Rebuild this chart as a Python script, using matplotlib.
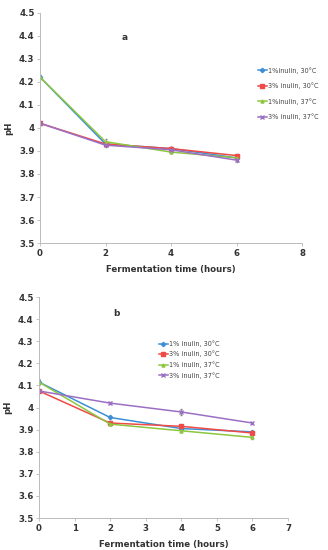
#!/usr/bin/env python3

import matplotlib
matplotlib.use("Agg")
from matplotlib.lines import Line2D
from matplotlib.pyplot import figure, close

HOURS = [0, 2, 4, 6]
LABELS_A = ["1%inulin, 30°C", "3% inulin, 30°C", "1%inulin, 37°C", "3% inulin, 37°C"]
LABELS_B = ["1% inulin, 30°C", "3% inulin, 30°C", "1% inulin, 37°C", "3% inulin, 37°C"]

PH_A = [
    [4.22, 3.93, 3.91, 3.87],
    [4.02, 3.93, 3.91, 3.88],
    [4.22, 3.94, 3.895, 3.87],
    [4.02, 3.925, 3.905, 3.86],
]
ERR_A = [
    [0.01, 0.01, 0.008, 0.008],
    [0.008, 0.006, 0.008, 0.008],
    [0.01, 0.012, 0.006, 0.008],
    [0.006, 0.008, 0.01, 0.01],
]
PH_B = [
    [4.115, 3.955, 3.905, 3.89],
    [4.075, 3.93, 3.915, 3.885],
    [4.115, 3.925, 3.895, 3.865],
    [4.075, 4.02, 3.98, 3.93],
]
ERR_B = [
    [0.015, 0.008, 0.006, 0.005],
    [0.006, 0.006, 0.006, 0.005],
    [0.01, 0.005, 0.005, 0.005],
    [0.006, 0.004, 0.012, 0.006],
]

COLORS = ["#3d8fd6", "#ef4a45", "#8dc63f", "#9a6fc4"]
MARKERS = ["D", "s", "^", "x"]


def panel(fig, rect, ph, err, labels, xmax, xticks, tag, tag_pos, leg_pos,
          spacing):
    ax = fig.add_axes(rect)
    handles = []
    for ys, es, lab, c, m in zip(ph, err, labels, COLORS, MARKERS):
        ax.errorbar(HOURS, ys, yerr=es, color=c, marker=m, markersize=2.2,
                    linewidth=1.1, ecolor="#888888", elinewidth=0.6, capsize=1)
        handles.append(Line2D([], [], color=c, marker=m, markersize=2.2,
                              linewidth=1.1, label=lab))
    ax.set_xlim(0, xmax)
    ax.set_ylim(3.5, 4.5)
    ax.set_xticks(xticks)
    ax.set_yticks([3.5, 3.6, 3.7, 3.8, 3.9, 4.0, 4.1, 4.2, 4.3, 4.4, 4.5])
    ax.set_yticklabels(["3.5", "3.6", "3.7", "3.8", "3.9", "4", "4.1", "4.2",
                        "4.3", "4.4", "4.5"])
    for s in ["top", "right"]:
        ax.spines[s].set_visible(False)
    for s in ["left", "bottom"]:
        ax.spines[s].set_color("#bbbbbb")
        ax.spines[s].set_linewidth(0.7)
    ax.tick_params(labelsize=6.2, length=2, width=0.6, color="#bbbbbb",
                   pad=2, labelcolor="#333333")
    for t in ax.get_xticklabels() + ax.get_yticklabels():
        t.set_fontweight("bold")
    ax.set_xlabel("Fermentation time (hours)", fontsize=6.2, fontweight="bold",
                  color="#333333", labelpad=5)
    ax.set_ylabel("pH", fontsize=6.2, fontweight="bold", color="#333333",
                  labelpad=4)
    ax.text(tag_pos[0], tag_pos[1], tag, fontsize=6.5, fontweight="bold",
            color="#333333", transform=ax.transAxes)
    leg = ax.legend(handles=handles, loc="upper left", bbox_to_anchor=leg_pos,
                    frameon=False, fontsize=4.7, handlelength=1.5,
                    labelspacing=spacing, handletextpad=0.15,
                    borderaxespad=0, borderpad=0)
    for t in leg.get_texts():
        t.set_color("#444444")
    return ax


def main():
    fig = figure(figsize=(3.28, 5.5), dpi=100)
    panel(fig, [0.122, 0.558, 0.799, 0.419], PH_A, ERR_A, LABELS_A, 8,
          [0, 2, 4, 6, 8], "a", (0.31, 0.88), (0.83, 0.765), 1.35)
    panel(fig, [0.119, 0.058, 0.759, 0.402], PH_B, ERR_B, LABELS_B, 7,
          [0, 1, 2, 3, 4, 5, 6, 7], "b", (0.30, 0.915), (0.48, 0.805), 0.6)
    fig.savefig("out.png", dpi=100)
    close(fig)


if __name__ == "__main__":
    main()
